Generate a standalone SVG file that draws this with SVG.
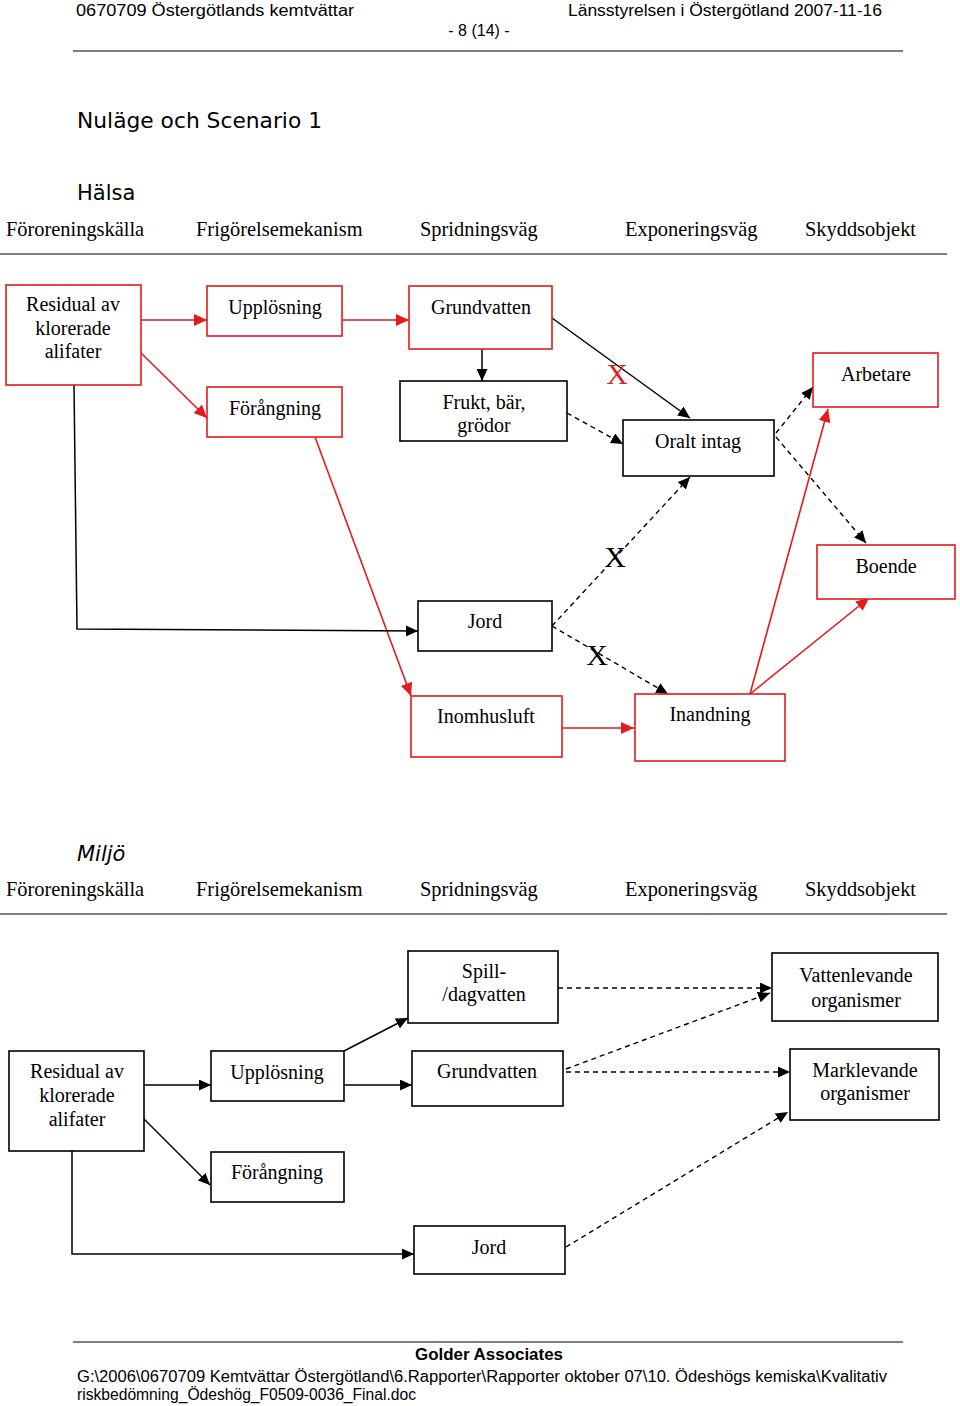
<svg xmlns="http://www.w3.org/2000/svg" width="960" height="1406" viewBox="0 0 960 1406">
<style>
.hdr{font-family:"Liberation Sans","DejaVu Sans",sans-serif;font-size:16px;fill:#000}
.ttl{font-family:"DejaVu Sans","Liberation Sans",sans-serif;font-size:21px;fill:#000}
.col{font-family:"Liberation Serif","Times New Roman",serif;font-size:20.4px;fill:#000}
.lbl{font-family:"Liberation Serif","Times New Roman",serif;font-size:20px;fill:#000;text-anchor:middle}
.rb{fill:#fff;stroke:#e31b1b;stroke-width:1.6}
.bb{fill:#fff;stroke:#000;stroke-width:1.6}
.rl{fill:none;stroke:#e31b1b;stroke-width:1.6}
.bl{fill:none;stroke:#000;stroke-width:1.5}
.dl{fill:none;stroke:#000;stroke-width:1.4;stroke-dasharray:5,4}
.rule{stroke:#000;stroke-width:1.2}
</style>
<defs>
<marker id="ar" markerWidth="14" markerHeight="12" refX="13" refY="6" orient="auto" markerUnits="userSpaceOnUse"><path d="M0,0 L13,6 L0,12 Z" fill="#e31b1b"/></marker>
<marker id="ab" markerWidth="13" markerHeight="11" refX="12" refY="5.5" orient="auto" markerUnits="userSpaceOnUse"><path d="M0,0 L12,5.5 L0,11 Z" fill="#000"/></marker>
</defs>
<rect width="960" height="1406" fill="#fff"/>
<!-- header -->
<g id="header">
<text class="hdr" x="76" y="16" textLength="278" lengthAdjust="spacingAndGlyphs">0670709 Östergötlands kemtvättar</text>
<text class="hdr" x="568" y="16" textLength="314" lengthAdjust="spacingAndGlyphs">Länsstyrelsen i Östergötland 2007-11-16</text>
<text class="hdr" x="479" y="36" text-anchor="middle">- 8 (14) -</text>
<line class="rule" x1="73" y1="51" x2="903" y2="51"/>
</g>
<g id="titles">
<text class="ttl" x="77" y="128" textLength="245" lengthAdjust="spacingAndGlyphs">Nuläge och Scenario 1</text>
<text class="ttl" x="77" y="200">Hälsa</text>
<text class="ttl" x="77" y="861" font-style="italic">Miljö</text>
</g>
<g id="columns1">
<text class="col" x="6" y="236">Föroreningskälla</text>
<text class="col" x="196" y="236">Frigörelsemekanism</text>
<text class="col" x="420" y="236">Spridningsväg</text>
<text class="col" x="625" y="236">Exponeringsväg</text>
<text class="col" x="805" y="236">Skyddsobjekt</text>
<line class="rule" x1="0" y1="254" x2="947" y2="254"/>
</g>
<!-- connectors diagram 1 -->
<g id="connectors1">
<line class="rl" x1="141" y1="320" x2="207" y2="320" marker-end="url(#ar)"/>
<line class="rl" x1="342" y1="320" x2="409" y2="320" marker-end="url(#ar)"/>
<line class="rl" x1="141" y1="353" x2="207" y2="418" stroke-width="1.2" marker-end="url(#ar)"/>
<line class="bl" x1="482" y1="349" x2="482" y2="381" marker-end="url(#ab)"/>
<line class="bl" x1="552" y1="318" x2="690" y2="418" marker-end="url(#ab)"/>
<line class="dl" x1="567" y1="413" x2="623" y2="444" marker-end="url(#ab)"/>
<line class="dl" x1="776" y1="433" x2="813" y2="387" marker-end="url(#ab)"/>
<line class="dl" x1="776" y1="437" x2="866" y2="543" marker-end="url(#ab)"/>
<line class="rl" x1="315" y1="437" x2="411" y2="696" marker-end="url(#ar)"/>
<polyline class="bl" points="74,385 77,629 418,631" marker-end="url(#ab)"/>
<line class="dl" x1="552" y1="626" x2="690" y2="477" marker-end="url(#ab)"/>
<line class="dl" x1="552" y1="626" x2="668" y2="694" marker-end="url(#ab)"/>
<line class="rl" x1="562" y1="728" x2="634" y2="728" marker-end="url(#ar)"/>
<line class="rl" x1="750" y1="694" x2="828" y2="409" marker-end="url(#ar)"/>
<line class="rl" x1="750" y1="694" x2="869" y2="598" marker-end="url(#ar)"/>
<text x="617" y="384" font-family="Liberation Serif,serif" font-size="30" fill="#e31b1b" text-anchor="middle">X</text>
<text x="615" y="567" font-family="Liberation Serif,serif" font-size="30" fill="#000" text-anchor="middle">X</text>
<text x="597" y="665" font-family="Liberation Serif,serif" font-size="30" fill="#000" text-anchor="middle">X</text>
</g>
<!-- nodes diagram 1 -->
<g id="n1-residual"><rect class="rb" x="6" y="285" width="135" height="100"/><text class="lbl" x="73" y="311">Residual av</text><text class="lbl" x="73" y="335">klorerade</text><text class="lbl" x="73" y="358">alifater</text></g>
<g id="n1-upplosning"><rect class="rb" x="207" y="286" width="135" height="50"/><text class="lbl" x="275" y="314">Upplösning</text></g>
<g id="n1-grundvatten"><rect class="rb" x="409" y="286" width="143" height="63"/><text class="lbl" x="481" y="314">Grundvatten</text></g>
<g id="n1-frukt"><rect class="bb" x="400" y="381" width="167" height="60"/><text class="lbl" x="484" y="409">Frukt, bär,</text><text class="lbl" x="484" y="432">grödor</text></g>
<g id="n1-forangning"><rect class="rb" x="207" y="387" width="135" height="50"/><text class="lbl" x="275" y="415">Förångning</text></g>
<g id="n1-oralt"><rect class="bb" x="623" y="420" width="151" height="56"/><text class="lbl" x="698" y="448">Oralt intag</text></g>
<g id="n1-arbetare"><rect class="rb" x="813" y="353" width="125" height="54"/><text class="lbl" x="876" y="381">Arbetare</text></g>
<g id="n1-boende"><rect class="rb" x="817" y="545" width="138" height="54"/><text class="lbl" x="886" y="573">Boende</text></g>
<g id="n1-jord"><rect class="bb" x="418" y="601" width="134" height="50"/><text class="lbl" x="485" y="628">Jord</text></g>
<g id="n1-inomhusluft"><rect class="rb" x="411" y="696" width="151" height="61"/><text class="lbl" x="486" y="723">Inomhusluft</text></g>
<g id="n1-inandning"><rect class="rb" x="635" y="694" width="150" height="67"/><text class="lbl" x="710" y="721">Inandning</text></g>
<!-- diagram 2 -->
<g id="columns2">
<text class="col" x="6" y="896">Föroreningskälla</text>
<text class="col" x="196" y="896">Frigörelsemekanism</text>
<text class="col" x="420" y="896">Spridningsväg</text>
<text class="col" x="625" y="896">Exponeringsväg</text>
<text class="col" x="805" y="896">Skyddsobjekt</text>
<line class="rule" x1="0" y1="914" x2="947" y2="914"/>
</g>
<g id="connectors2">
<line class="bl" x1="144" y1="1085" x2="211" y2="1085" marker-end="url(#ab)"/>
<line class="bl" x1="344" y1="1085" x2="412" y2="1085" marker-end="url(#ab)"/>
<line class="bl" x1="344" y1="1051" x2="408" y2="1018" marker-end="url(#ab)"/>
<line class="bl" x1="144" y1="1119" x2="210" y2="1185" stroke-width="1.2" marker-end="url(#ab)"/>
<polyline class="bl" points="72,1151 72,1254 414,1254" marker-end="url(#ab)"/>
<line class="dl" x1="558" y1="988" x2="772" y2="988" marker-end="url(#ab)"/>
<line class="dl" x1="566" y1="1069" x2="770" y2="993" marker-end="url(#ab)"/>
<line class="dl" x1="566" y1="1072" x2="790" y2="1072" marker-end="url(#ab)"/>
<line class="dl" x1="566" y1="1247" x2="788" y2="1112" marker-end="url(#ab)"/>
</g>
<g id="n2-spill"><rect class="bb" x="408" y="951" width="150" height="72"/><text class="lbl" x="484" y="978">Spill-</text><text class="lbl" x="484" y="1001">/dagvatten</text></g>
<g id="n2-vattenlevande"><rect class="bb" x="772" y="953" width="166" height="68"/><text class="lbl" x="856" y="982" font-size="21">Vattenlevande</text><text class="lbl" x="856" y="1007" font-size="21">organismer</text></g>
<g id="n2-residual"><rect class="bb" x="9" y="1051" width="135" height="100"/><text class="lbl" x="77" y="1078">Residual av</text><text class="lbl" x="77" y="1102">klorerade</text><text class="lbl" x="77" y="1126">alifater</text></g>
<g id="n2-upplosning"><rect class="bb" x="211" y="1051" width="133" height="50"/><text class="lbl" x="277" y="1079">Upplösning</text></g>
<g id="n2-grundvatten"><rect class="bb" x="412" y="1051" width="151" height="55"/><text class="lbl" x="487" y="1078">Grundvatten</text></g>
<g id="n2-marklevande"><rect class="bb" x="790" y="1049" width="149" height="71"/><text class="lbl" x="865" y="1077">Marklevande</text><text class="lbl" x="865" y="1100">organismer</text></g>
<g id="n2-forangning"><rect class="bb" x="211" y="1152" width="133" height="50"/><text class="lbl" x="277" y="1179">Förångning</text></g>
<g id="n2-jord"><rect class="bb" x="414" y="1226" width="151" height="48"/><text class="lbl" x="489" y="1254">Jord</text></g>
<!-- footer -->
<g id="footer">
<line class="rule" x1="73" y1="1342" x2="903" y2="1342"/>
<text x="489" y="1360" font-family="Liberation Sans,sans-serif" font-size="17" font-weight="bold" text-anchor="middle" textLength="148" lengthAdjust="spacingAndGlyphs">Golder Associates</text>
<text class="hdr" x="77" y="1382" font-size="15" textLength="810" lengthAdjust="spacingAndGlyphs">G:\2006\0670709 Kemtvättar Östergötland\6.Rapporter\Rapporter oktober 07\10. Ödeshögs kemiska\Kvalitativ</text>
<text class="hdr" x="77" y="1400" font-size="15" textLength="339" lengthAdjust="spacingAndGlyphs">riskbedömning_Ödeshög_F0509-0036_Final.doc</text>
</g>
</svg>
